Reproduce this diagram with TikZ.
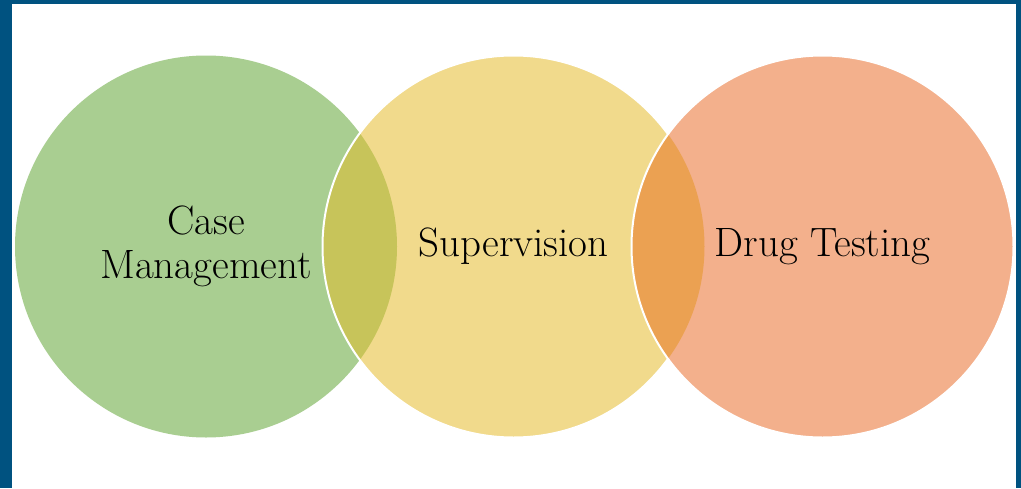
\documentclass[tikz,border=0pt]{standalone}
\usepackage{tikz}
\usepackage{xcolor}

\definecolor{frameblue}{RGB}{0,82,128}
\definecolor{casegreen}{RGB}{169,206,145}
\definecolor{supyellow}{RGB}{241,218,140}
\definecolor{drugorange}{RGB}{243,176,140}
\definecolor{gymix}{RGB}{199,196,90}
\definecolor{yomix}{RGB}{235,161,82}

\begin{document}
\begin{tikzpicture}[x=1pt, y=-1pt,
    ring/.style={circle, minimum size=382pt, inner sep=0pt, outer sep=0pt,
      align=center, font=\fontsize{41}{44}\selectfont},
    rim/.style={white, line width=2pt}]
    % frame
    \fill[frameblue] (0,0) rectangle (1021,488);
    \fill[white] (12,4) rectangle (1016,488);
    \useasboundingbox (0,0) rectangle (1021,488);

    \node[ring, fill=casegreen] (case) at (206,246.5) {Case\\Management};
    \node[ring, fill=supyellow] (sup) at (513.5,246.5) {};
    \begin{scope}
      \clip (case.center) circle[radius=191];
      \fill[gymix] (sup.center) circle[radius=191];
    \end{scope}
    \draw[rim] (sup.center) circle[radius=191];

    \node[ring, fill=drugorange] (drug) at (822.5,246.5) {};
    \begin{scope}
      \clip (sup.center) circle[radius=191];
      \fill[yomix] (drug.center) circle[radius=191];
    \end{scope}
    \draw[rim] (drug.center) circle[radius=191];

    % labels
    \node[ring] (suplabel) at (sup.center) {Supervision};
    \node[ring] (druglabel) at (drug.center) {Drug Testing};
\end{tikzpicture}
\end{document}
